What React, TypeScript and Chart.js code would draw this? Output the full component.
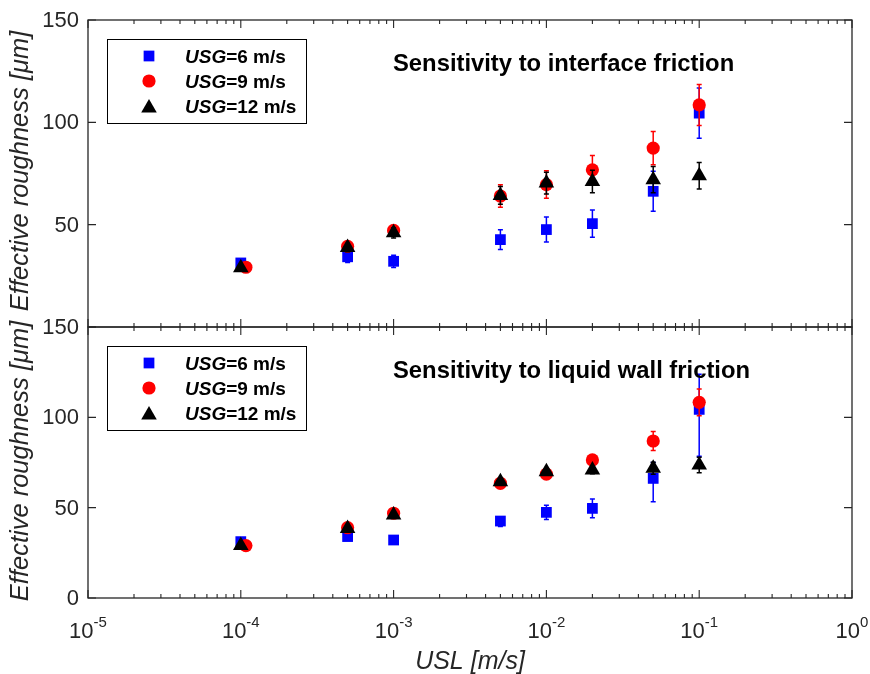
import React, { useEffect, useRef } from 'react';
import { Chart, registerables } from 'chart.js';

Chart.register(...registerables);

// ---------------- data ----------------
const usl = [1e-4, 5e-4, 1e-3, 5e-3, 1e-2, 2e-2, 5e-2, 1e-1];
const uslRed = [1.08e-4, 5e-4, 1e-3, 5e-3, 1e-2, 2e-2, 5e-2, 1e-1];

// top panel: sensitivity to interface friction
const blueTop = [31.3, 34.3, 32.1, 42.7, 47.6, 50.5, 66.3, 104.5];
const blueTopErr = [1.0, 2.8, 3.0, 4.8, 6.1, 6.7, 9.8, 12.3];
const redTop = [29.2, 39.4, 47.2, 64.0, 69.6, 76.8, 87.4, 108.5];
const redTopErr = [0.5, 1.0, 1.0, 5.5, 6.7, 7.0, 8.1, 10.0];
const blackTop = [29.0, 38.8, 46.0, 64.3, 70.3, 71.1, 72.0, 73.9];
const blackTopErr = [0.5, 2.0, 2.5, 4.3, 5.3, 5.5, 6.4, 6.5];

// bottom panel: sensitivity to liquid wall friction
const blueBot = [31.2, 34.0, 32.1, 42.6, 47.4, 49.6, 66.2, 104.4];
const blueBotErrUp = [0.5, 0.5, 0.5, 1.0, 3.9, 5.2, 8.8, 19.5];
const blueBotErrDown = [0.5, 0.5, 0.5, 3.0, 3.9, 5.2, 12.9, 26.0];
const redBot = [29.0, 38.9, 46.9, 63.5, 68.6, 76.4, 86.9, 108.3];
const redBotErr = [0.5, 0.5, 0.5, 1.0, 1.5, 2.0, 5.3, 7.4];
const blackBot = [29.0, 38.4, 45.9, 64.4, 69.9, 70.8, 71.8, 73.6];
const blackBotErr = [0.5, 0.5, 0.5, 1.0, 1.5, 2.0, 3.3, 4.3];

const seriesNames = ['6', '9', '12'];
const seriesColors = ['#0000FF', '#FF0000', '#000000'];
const seriesStyles = ['rect', 'circle', 'triangle'];
const seriesRadius = [7.6, 6.6, 9];

const xMajorExps = [-5, -4, -3, -2, -1, 0];
const xMinorMult = [2, 3, 4, 5, 6, 7, 8, 9];
const yTicks = [0, 50, 100, 150];

const panelTitles = ['Sensitivity to interface friction', 'Sensitivity to liquid wall friction'];
const yTitle = 'Effective roughness [\u03BCm]';
const xTitle = 'USL [m/s]';

// ---------------- styling ----------------
const FONT = 'Arial, "Liberation Sans", Helvetica, sans-serif';
const AXIS = '#262626';
const W = 870;
const H = 674;

type PanelCfg = {
  top: number;
  bottom: number;
  title: string;
  blue: number[]; blueErrUp: number[]; blueErrDown: number[];
  red: number[]; redErr: number[];
  black: number[]; blackErr: number[];
  showX: boolean;
  hideZero: boolean;
  legendTop: number;
  yTitleCenter: number;
};

function drawMarker(ctx: CanvasRenderingContext2D, style: string, x: number, y: number, r: number, color: string) {
  ctx.save();
  ctx.fillStyle = color;
  ctx.beginPath();
  if (style === 'rect') {
    const s = Math.SQRT1_2 * r;
    ctx.rect(x - s, y - s, 2 * s, 2 * s);
  } else if (style === 'circle') {
    ctx.arc(x, y, r, 0, Math.PI * 2);
  } else {
    ctx.moveTo(x, y - r);
    ctx.lineTo(x + 0.866 * r, y + 0.5 * r);
    ctx.lineTo(x - 0.866 * r, y + 0.5 * r);
    ctx.closePath();
  }
  ctx.fill();
  ctx.restore();
}

const errorBarPlugin = {
  id: 'errorBars',
  afterDatasetDraw(chart: any, args: any) {
    const ds: any = chart.data.datasets[args.index];
    const meta = args.meta;
    const ys = chart.scales.y;
    const ctx: CanvasRenderingContext2D = chart.ctx;
    ctx.save();
    ctx.strokeStyle = ds.borderColor;
    ctx.lineWidth = 1.5;
    meta.data.forEach((pt: any, i: number) => {
      const v = ds.data[i].y;
      const yt = ys.getPixelForValue(v + ds.errUp[i]);
      const yb = ys.getPixelForValue(v - ds.errDown[i]);
      ctx.beginPath();
      ctx.moveTo(pt.x, yt);
      ctx.lineTo(pt.x, yb);
      ctx.moveTo(pt.x - 2.5, yt);
      ctx.lineTo(pt.x + 2.5, yt);
      ctx.moveTo(pt.x - 2.5, yb);
      ctx.lineTo(pt.x + 2.5, yb);
      ctx.stroke();
    });
    ctx.restore();
  },
};

function makeDecorPlugin(cfg: PanelCfg) {
  return {
    id: 'decor',
    afterDraw(chart: any) {
      const ctx: CanvasRenderingContext2D = chart.ctx;
      const xs = chart.scales.x;
      const ys = chart.scales.y;
      const { left, right, top, bottom } = chart.chartArea;
      ctx.save();

      // frame
      ctx.strokeStyle = AXIS;
      ctx.lineWidth = 1.3;
      ctx.strokeRect(left, top, right - left, bottom - top);

      // x ticks (bottom & top edges, inward)
      ctx.lineWidth = 1.1;
      ctx.beginPath();
      xMajorExps.forEach((k) => {
        const x = xs.getPixelForValue(Math.pow(10, k));
        ctx.moveTo(x, bottom); ctx.lineTo(x, bottom - 8);
        ctx.moveTo(x, top); ctx.lineTo(x, top + 8);
        if (k < 0) {
          xMinorMult.forEach((m) => {
            const xm = xs.getPixelForValue(m * Math.pow(10, k));
            ctx.moveTo(xm, bottom); ctx.lineTo(xm, bottom - 4);
            ctx.moveTo(xm, top); ctx.lineTo(xm, top + 4);
          });
        }
      });
      // y ticks (left & right, inward)
      yTicks.forEach((v) => {
        const y = ys.getPixelForValue(v);
        ctx.moveTo(left, y); ctx.lineTo(left + 8, y);
        ctx.moveTo(right, y); ctx.lineTo(right - 8, y);
      });
      ctx.stroke();

      // y tick labels
      ctx.fillStyle = AXIS;
      ctx.font = '22px ' + FONT;
      ctx.textAlign = 'right';
      ctx.textBaseline = 'middle';
      yTicks.forEach((v) => {
        if (cfg.hideZero && v === 0) return;
        ctx.fillText(String(v), left - 9, ys.getPixelForValue(v) + 1);
      });

      // y title
      ctx.save();
      ctx.translate(28, cfg.yTitleCenter);
      ctx.rotate(-Math.PI / 2);
      ctx.font = 'italic 25.5px ' + FONT;
      ctx.textAlign = 'center';
      ctx.textBaseline = 'alphabetic';
      ctx.fillText(yTitle, 0, 0);
      ctx.restore();

      // x tick labels and x title
      if (cfg.showX) {
        ctx.textAlign = 'left';
        ctx.textBaseline = 'alphabetic';
        xMajorExps.forEach((k) => {
          const x = xs.getPixelForValue(Math.pow(10, k));
          const base = '10';
          const sup = String(k);
          ctx.font = '22px ' + FONT;
          const w1 = ctx.measureText(base).width;
          ctx.font = '15px ' + FONT;
          const w2 = ctx.measureText(sup).width;
          const x0 = x - (w1 + w2) / 2;
          ctx.font = '22px ' + FONT;
          ctx.fillText(base, x0, bottom + 40);
          ctx.font = '15px ' + FONT;
          ctx.fillText(sup, x0 + w1, bottom + 29);
        });
        ctx.font = 'italic 25px ' + FONT;
        ctx.textAlign = 'center';
        ctx.fillText(xTitle, (left + right) / 2, bottom + 71);
      }

      // panel title
      ctx.fillStyle = '#000000';
      ctx.font = 'bold 23.8px ' + FONT;
      ctx.textAlign = 'left';
      ctx.textBaseline = 'alphabetic';
      ctx.fillText(cfg.title, 393, top + 51);

      // legend
      const lt = cfg.legendTop;
      ctx.fillStyle = '#FFFFFF';
      ctx.fillRect(107, lt, 199, 84);
      ctx.strokeStyle = '#000000';
      ctx.lineWidth = 1;
      ctx.strokeRect(107.5, lt + 0.5, 199, 84);
      seriesNames.forEach((n, i) => {
        const cy = lt + 17 + i * 25;
        drawMarker(ctx, seriesStyles[i], 149, cy + (seriesStyles[i] === 'triangle' ? 2 : 0), seriesRadius[i], seriesColors[i]);
        ctx.fillStyle = '#000000';
        ctx.font = 'italic bold 19px ' + FONT;
        ctx.fillText('USG', 185, cy + 7);
        const wU = ctx.measureText('USG').width;
        ctx.font = 'bold 19px ' + FONT;
        ctx.fillText('=' + n + ' m/s', 185 + wU, cy + 7);
      });

      ctx.restore();
    },
  };
}

function Panel({ cfg }: { cfg: PanelCfg }) {
  const ref = useRef<HTMLCanvasElement>(null);
  useEffect(() => {
    const canvas = ref.current;
    if (!canvas) return;
    const mk = (xsArr: number[], ys: number[]) => xsArr.map((x, i) => ({ x, y: ys[i] }));
    const chart = new Chart(canvas, {
      type: 'scatter',
      data: {
        datasets: [
          {
            label: 'USG=6 m/s', data: mk(usl, cfg.blue), errUp: cfg.blueErrUp, errDown: cfg.blueErrDown,
            pointStyle: 'rect', pointRadius: seriesRadius[0], backgroundColor: seriesColors[0],
            borderColor: seriesColors[0], borderWidth: 0, order: 3,
          } as any,
          {
            label: 'USG=9 m/s', data: mk(uslRed, cfg.red), errUp: cfg.redErr, errDown: cfg.redErr,
            pointStyle: 'circle', pointRadius: seriesRadius[1], backgroundColor: seriesColors[1],
            borderColor: seriesColors[1], borderWidth: 0, order: 2,
          } as any,
          {
            label: 'USG=12 m/s', data: mk(usl, cfg.black), errUp: cfg.blackErr, errDown: cfg.blackErr,
            pointStyle: 'triangle', pointRadius: seriesRadius[2], backgroundColor: seriesColors[2],
            borderColor: seriesColors[2], borderWidth: 0, order: 1,
          } as any,
        ],
      },
      options: {
        responsive: false,
        animation: false,
        devicePixelRatio: 1,
        events: [],
        layout: { padding: { left: 88, top: cfg.top, right: W - 852, bottom: H - cfg.bottom } },
        plugins: { legend: { display: false }, tooltip: { enabled: false } },
        scales: {
          x: { type: 'logarithmic', min: 1e-5, max: 1, display: false },
          y: { type: 'linear', min: 0, max: 150, display: false },
        },
      },
      plugins: [errorBarPlugin, makeDecorPlugin(cfg)],
    } as any);
    return () => chart.destroy();
  }, [cfg]);
  return (
    <canvas
      ref={ref}
      width={W}
      height={H}
      style={{ position: 'absolute', left: 0, top: 0, width: W, height: H }}
    />
  );
}

const topCfg: PanelCfg = {
  top: 20, bottom: 327, title: panelTitles[0],
  blue: blueTop, blueErrUp: blueTopErr, blueErrDown: blueTopErr, red: redTop, redErr: redTopErr,
  black: blackTop, blackErr: blackTopErr, showX: false, hideZero: true, legendTop: 39, yTitleCenter: 171,
};
const botCfg: PanelCfg = {
  top: 327, bottom: 598, title: panelTitles[1],
  blue: blueBot, blueErrUp: blueBotErrUp, blueErrDown: blueBotErrDown, red: redBot, redErr: redBotErr,
  black: blackBot, blackErr: blackBotErr, showX: true, hideZero: false, legendTop: 346, yTitleCenter: 461,
};

export default function App() {
  return (
    <div style={{ position: 'absolute', left: 0, top: 0, width: W, height: H, background: '#FFFFFF' }}>
      <Panel cfg={topCfg} />
      <Panel cfg={botCfg} />
    </div>
  );
}
